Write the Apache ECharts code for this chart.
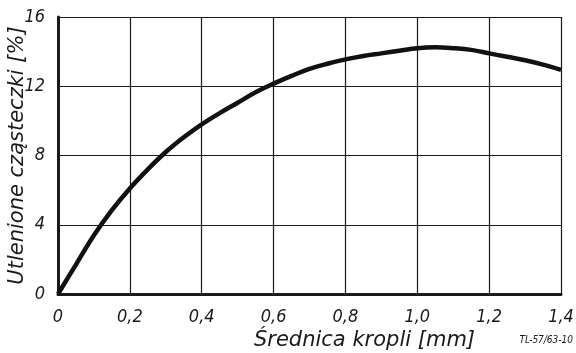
<!DOCTYPE html>
<html style="height: 100%">
<head>
    <meta charset="utf-8">
    <script src="https://cdn.jsdelivr.net/npm/echarts@6/dist/echarts.min.js"></script>
</head>
<body style="height: 100%; margin: 0; background: #fff">
    <div id="container" style="width: 576px; height: 353px"></div>
    <script type="text/javascript">
        // średnica kropli [mm] i utlenione cząsteczki [%]
        var diameters = [0, 0.05, 0.1, 0.15, 0.2, 0.25, 0.3, 0.35, 0.4, 0.45, 0.5, 0.55, 0.6, 0.65, 0.7,
            0.75, 0.8, 0.85, 0.9, 0.95, 1.0, 1.05, 1.1, 1.15, 1.2, 1.25, 1.3, 1.35, 1.4];
        var oxidized = [0, 1.7, 3.4, 4.85, 6.1, 7.2, 8.2, 9.05, 9.8, 10.45, 11.05, 11.65, 12.15, 12.6, 13.0,
            13.3, 13.55, 13.75, 13.9, 14.05, 14.2, 14.25, 14.2, 14.1, 13.9, 13.7, 13.5, 13.25, 12.95];
        var xTickLabels = ['0', '0,2', '0,4', '0,6', '0,8', '1,0', '1,2', '1,4'];
        var yTickLabels = ['0', '4', '8', '12', '16'];

        var font = 'DejaVu Sans Condensed';
        var ink = '#1a1a1a';

        var points = diameters.map(function (d, i) { return [d, oxidized[i]]; });

        var myChart = echarts.init(document.getElementById('container'));
        var option = {
            animation: false,
            grid: { left: 58, right: 15, top: 17, bottom: 59, outerBoundsMode: 'none' },
            xAxis: {
                type: 'value',
                min: 0, max: 1.4, interval: 0.2,
                name: 'Średnica kropli [mm]',
                nameLocation: 'middle',
                nameMoveOverlap: false,
                nameGap: 36,
                nameTextStyle: {
                    color: ink, fontFamily: 'DejaVu Sans', fontStyle: 'italic',
                    fontSize: 21, padding: [0, 0, 0, 110]
                },
                axisLine: { lineStyle: { color: ink, width: 3 } },
                axisTick: { show: false },
                axisLabel: {
                    color: ink, fontFamily: font, fontStyle: 'italic', fontSize: 18, margin: 14,
                    formatter: function (v) { return xTickLabels[Math.round(v / 0.2)]; }
                },
                splitLine: { show: true, lineStyle: { color: ink, width: 1.2 } }
            },
            yAxis: {
                type: 'value',
                min: 0, max: 16, interval: 4,
                name: 'Utlenione cząsteczki [%]',
                nameLocation: 'middle',
                nameMoveOverlap: false,
                nameGap: 30,
                nameTextStyle: {
                    color: ink, fontFamily: 'DejaVu Sans', fontStyle: 'italic', fontSize: 21
                },
                axisLine: { show: true, lineStyle: { color: ink, width: 3 } },
                axisTick: { show: false },
                axisLabel: {
                    color: ink, fontFamily: font, fontStyle: 'italic', fontSize: 18, margin: 13,
                    formatter: function (v) { return yTickLabels[Math.round(v / 4)]; }
                },
                splitLine: { show: true, lineStyle: { color: ink, width: 1.2 } }
            },
            series: [{
                type: 'line',
                data: points,
                smooth: 0.4,
                symbol: 'none',
                lineStyle: { color: '#111', width: 4.5 }
            }],
            graphic: [{
                type: 'text',
                right: 3, bottom: 8,
                style: {
                    text: 'TL-57/63-10',
                    fill: ink, font: 'italic 10px "DejaVu Sans Condensed"'
                }
            }]
        };
        myChart.setOption(option, true);
    </script>
</body>
</html>
